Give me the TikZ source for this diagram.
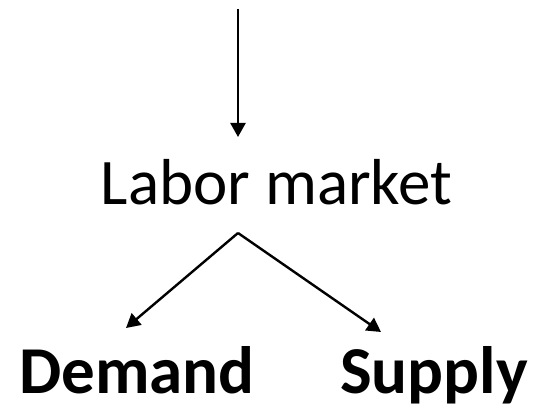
\documentclass[tikz,border=0pt]{standalone}
\usepackage{fontspec}
\setmainfont{Carlito}
\usetikzlibrary{arrows.meta}
\tikzset{
  conn/.style={line width=2.4pt, -{Triangle[width=15pt,length=14pt]}},
  lbl/.style={inner sep=0pt, anchor=base},
  big/.style={font=\fontsize{67}{74}\selectfont\bfseries},
}
\begin{document}
\begin{tikzpicture}[x=1pt,y=-1pt]
\useasboundingbox (0,0) rectangle (537,411);
\clip (0,0) rectangle (537,411);
\node[lbl, font=\fontsize{65}{72}\selectfont] (lab) at (276.5,205) {Labor market};
\node[lbl, big, anchor=base west] (dem) at (19,393) {Demand};
\node[lbl, big, anchor=base west] (sup) at (340,393) {Supply};
\coordinate (top) at (238,9);
\coordinate (topend) at (238,137);
\coordinate (apex) at (238,233);
\coordinate (lend) at (126,328);
\coordinate (rend) at (381,332);
\draw[conn] (top) -- (topend);
\draw[conn] (apex) -- (lend);
\draw[conn] (apex) -- (rend);
\end{tikzpicture}
\end{document}
